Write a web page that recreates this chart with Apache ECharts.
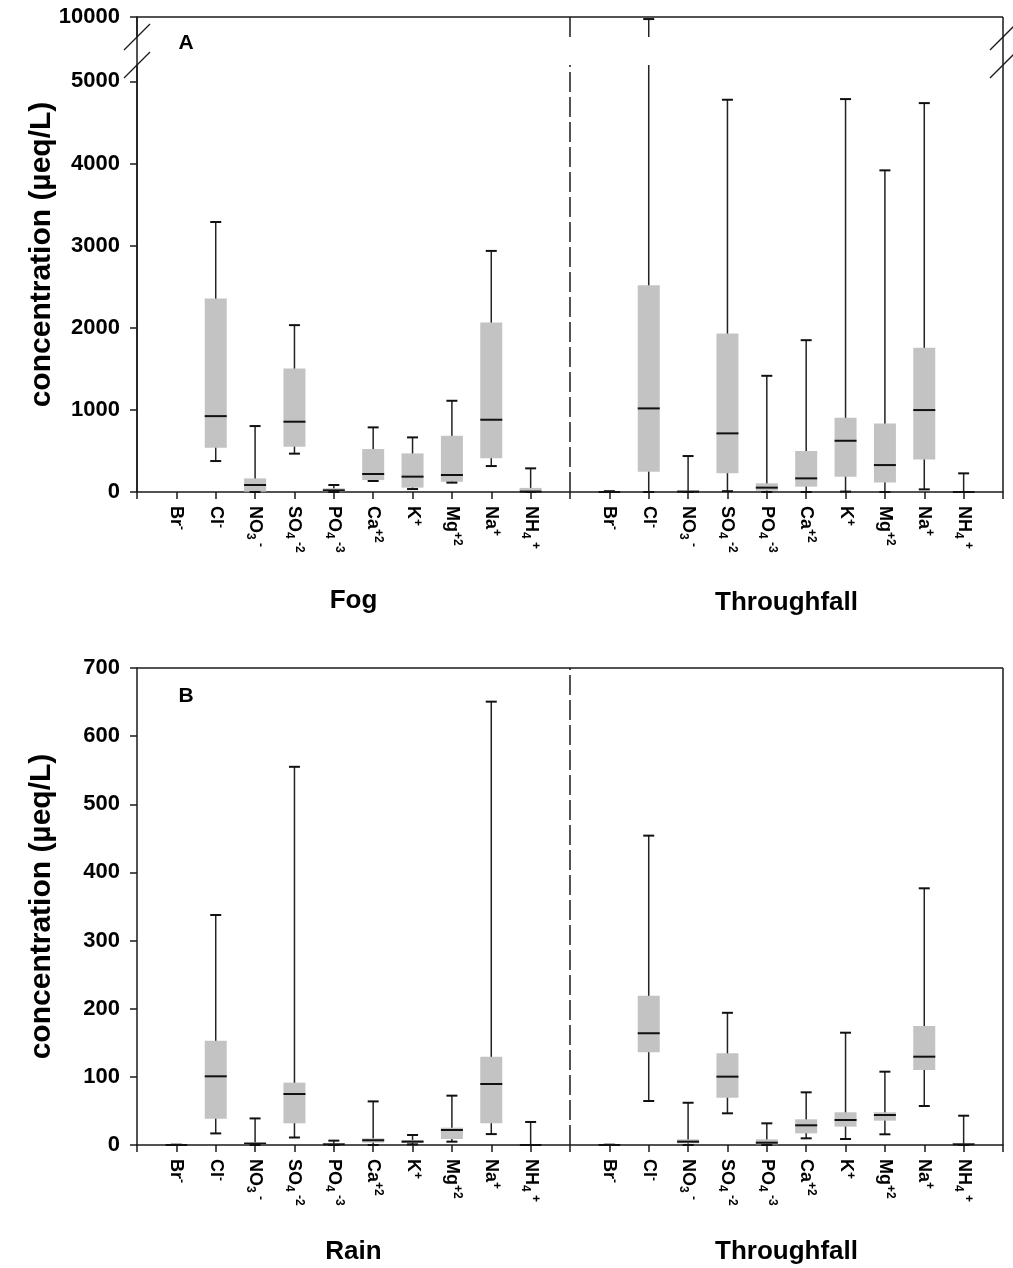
<!DOCTYPE html>
<html><head><meta charset="utf-8">
<script src="https://cdn.jsdelivr.net/npm/echarts@6/dist/echarts.min.js"></script>
<style>html,body{margin:0;padding:0;background:#fff}#c{width:1013px;height:1268px}</style>
</head><body><div id="c"></div>
<script>
// ---------- data ----------
const ionLabels = ['Br{sp|-}', 'Cl{sp|-}', 'NO{sb|3}{sp| -}', 'SO{sb|4}{sp| -2}', 'PO{sb|4}{sp| -3}',
                   'Ca{sp|+2}', 'K{sp|+}', 'Mg{sp|+2}', 'Na{sp|+}', 'NH{sb|4}{sp| +}'];
const groupTitlesA = ['Fog', 'Throughfall'];
const groupTitlesB = ['Rain', 'Throughfall'];
// each row: [min, Q1, median, Q3, max]  (µeq/L)
const fogA = [null, [377,539,924,2356,3288], [0,4,85,166,803], [467,552,856,1504,2032], [0,5,20,45,85],
  [134,146,219,523,787], [36,53,187,470,665], [114,126,207,685,1111], [316,410,880,2064,2936], [0,0,5,50,288]];
const throughfallA = [[0,0,0,2,10], [0,247,1018,2518,9975], [0,0,5,15,438], [10,227,714,1930,4777], [0,16,53,106,1415],
  [0,65,166,499,1849], [5,187,624,904,4785], [0,117,328,835,3917], [32,397,998,1756,4736], [0,0,0,3,227]];
const rainB = [[0,0,0,0,0.5], [17,38.6,100.8,153,337.5], [0,0,2,4,39], [11,31.8,74.8,91.5,555], [0,0,1,2,6.4],
  [0,3.4,7,9.8,64], [1,3.4,4.9,7.3,14.7], [4.9,8.8,22,25.4,72.4], [16,31.8,89.5,129.6,650.6], [0,0,0,1,33.8]];
const throughfallB = [[0,0,0,0,0.5], [64.6,136,164,219,454], [0,2.4,4.9,8.3,62], [46.5,69.5,100.3,134.5,194], [0,1,3.4,8.3,31.8],
  [9.8,17.1,28.9,37.7,77.3], [8.8,26.9,36.7,48,164.8], [15.7,35.7,44,48,107.6], [57.2,110,129.6,174.6,376.7], [0,0,1,2,43]];
const yTicksALower = [0, 1000, 2000, 3000, 4000, 5000];
const yTicksAUpper = [10000];
const yRangeALower = [0, 5200];
const yRangeAUpper = [9756, 10000];
const yRangeB = [0, 700];
const yIntervalB = 100;

// ---------- layout ----------
const FONT = '"Liberation Sans", Arial, sans-serif';
const L = 137, R = 1003;
const A_TOP = 17, A_UP_H = 20, A_LOW_TOP = 65, A_BOT = 492;
const B_TOP = 668, B_BOT = 1145;
const W = 1013, H = 1268;

// category positions: group 1 at 1..10, divider at 11, group 2 at 12..21
function buildData(rows, offset) {
  const out = [];
  rows.forEach((r, i) => { if (r) out.push([offset + i].concat(r)); });
  return out;
}
const labelAt = {};
ionLabels.forEach((t, i) => { labelAt[1 + i] = t; labelAt[12 + i] = t; });

function makeRender(rmin, rmax) {
  return function (params, api) {
    const x = api.value(0);
    const lo = api.value(1), q1 = api.value(2), md = api.value(3), q3 = api.value(4), hi = api.value(5);
    const cl = t => Math.min(Math.max(t, rmin), rmax);
    const P = t => api.coord([x, t]);
    const cx = P(rmin)[0];
    const BW = 22, CW = 11;
    const ch = [];
    if (hi >= rmin && lo <= rmax) {
      const a = P(cl(lo)), b = P(cl(hi));
      ch.push({type: 'line', shape: {x1: cx, y1: a[1], x2: cx, y2: b[1]}, style: {stroke: '#222', lineWidth: 1.5}});
    }
    if (q3 >= rmin && q1 <= rmax) {
      const a = P(cl(q1)), b = P(cl(q3));
      ch.push({type: 'rect', shape: {x: cx - BW / 2, y: b[1], width: BW, height: Math.max(a[1] - b[1], 1)}, style: {fill: '#c3c3c3'}});
    }
    [lo, hi].forEach(t => {
      if (t >= rmin && t <= rmax) {
        const p = P(t);
        ch.push({type: 'line', shape: {x1: cx - CW / 2, y1: p[1], x2: cx + CW / 2, y2: p[1]}, style: {stroke: '#111', lineWidth: 2}});
      }
    });
    if (md >= rmin && md <= rmax) {
      const p = P(md);
      ch.push({type: 'line', shape: {x1: cx - BW / 2, y1: p[1], x2: cx + BW / 2, y2: p[1]}, style: {stroke: '#111', lineWidth: 2}});
    }
    return {type: 'group', children: ch};
  };
}

const axisLineStyle = {color: '#1a1a1a', width: 1.5};
function xAxisCfg(gridIndex, show) {
  return {
    type: 'value', gridIndex, min: 0, max: 22, interval: 1, show,
    splitLine: {show: false},
    axisLine: {show: true, onZero: false, lineStyle: axisLineStyle},
    axisTick: {show: true, inside: false, length: 7, lineStyle: axisLineStyle},
    axisLabel: {
      show: true, rotate: -90, margin: 14, color: '#000', fontFamily: FONT, fontSize: 18, fontWeight: 'bold', lineHeight: 22,
      formatter: v => labelAt[v] || '',
      rich: {
        sb: {fontFamily: FONT, fontSize: 12, fontWeight: 'bold', color: '#000', verticalAlign: 'bottom'},
        sp: {fontFamily: FONT, fontSize: 12, fontWeight: 'bold', color: '#000', verticalAlign: 'top'}
      }
    }
  };
}
const yLabelBase = {color: '#000', fontFamily: FONT, fontSize: 22, fontWeight: 'bold', margin: 17, formatter: v => String(v)};
function yAxisCfg(gridIndex, range, extra) {
  return Object.assign({
    type: 'value', gridIndex, min: range[0], max: range[1],
    splitLine: {show: false},
    axisLine: {show: true, onZero: false, lineStyle: axisLineStyle},
    axisTick: {show: true, inside: false, length: 7, lineStyle: axisLineStyle},
    axisLabel: Object.assign({}, yLabelBase)
  }, extra);
}
const divider = {
  symbol: 'none', silent: true, label: {show: false},
  lineStyle: {color: '#1a1a1a', width: 1.5, type: [20, 5]},
  data: [{xAxis: 11}]
};

const dataA = buildData(fogA, 1).concat(buildData(throughfallA, 12));
const dataB = buildData(rainB, 1).concat(buildData(throughfallB, 12));

const chart = echarts.init(document.getElementById('c'), null, {renderer: 'canvas'});
const option = {
  animation: false,
  backgroundColor: '#fff',
  grid: [
    {left: L, right: W - R, top: A_TOP, height: A_UP_H},
    {left: L, right: W - R, top: A_LOW_TOP, height: A_BOT - A_LOW_TOP},
    {left: L, right: W - R, top: B_TOP, height: B_BOT - B_TOP}
  ],
  xAxis: [xAxisCfg(0, false), xAxisCfg(1, true), xAxisCfg(2, true)],
  yAxis: [
    yAxisCfg(0, yRangeAUpper, {
      axisTick: {show: true, inside: false, length: 7, lineStyle: axisLineStyle, customValues: yTicksAUpper},
      axisLabel: Object.assign({}, yLabelBase, {customValues: yTicksAUpper})
    }),
    yAxisCfg(1, yRangeALower, {
      axisTick: {show: true, inside: false, length: 7, lineStyle: axisLineStyle, customValues: yTicksALower},
      axisLabel: Object.assign({}, yLabelBase, {customValues: yTicksALower})
    }),
    yAxisCfg(2, yRangeB, {interval: yIntervalB})
  ],
  series: [
    {type: 'custom', xAxisIndex: 0, yAxisIndex: 0, renderItem: makeRender(yRangeAUpper[0], yRangeAUpper[1]),
     encode: {x: 0, y: [1, 2, 3, 4, 5]}, data: dataA, markLine: divider, silent: true},
    {type: 'custom', xAxisIndex: 1, yAxisIndex: 1, renderItem: makeRender(yRangeALower[0], yRangeALower[1]),
     encode: {x: 0, y: [1, 2, 3, 4, 5]}, data: dataA, markLine: divider, silent: true},
    {type: 'custom', xAxisIndex: 2, yAxisIndex: 2, renderItem: makeRender(yRangeB[0], yRangeB[1]),
     encode: {x: 0, y: [1, 2, 3, 4, 5]}, data: dataB, markLine: divider, silent: true}
  ]
};
chart.setOption(option);

// ---------- decorations (frame, break marks, titles) ----------
const px = (g, v) => chart.convertToPixel({gridIndex: g}, v);
const stroke = {stroke: '#1a1a1a', lineWidth: 1.5};
const g = [];
function line(x1, y1, x2, y2, st) { g.push({type: 'line', z: 50, shape: {x1, y1, x2, y2}, style: Object.assign({}, stroke, st || {})}); }
function text(t, x, y, size, rot) {
  g.push({type: 'text', z: 50, x, y, rotation: rot || 0,
    style: {text: t, font: 'bold ' + size + 'px ' + FONT, fill: '#000', align: 'center', verticalAlign: 'middle',
            textAlign: 'center', textVerticalAlign: 'middle'}});
}
// panel A frame
const aTL = px(0, [0, yRangeAUpper[1]]), aBR = px(1, [22, 0]);
const aBrkTop = px(0, [0, yRangeAUpper[0]])[1], aBrkBot = px(1, [0, yRangeALower[1]])[1];
line(aTL[0], aTL[1], aBR[0], aTL[1]);
line(aTL[0], aTL[1], aTL[0], aBR[1]);
line(aBR[0], aTL[1], aBR[0], aBR[1]);
[aTL[0], aBR[0]].forEach(x => {
  [aBrkTop, aBrkBot].forEach(y => line(x + 13, y - 13, x - 13, y + 13, {lineWidth: 1.3}));
});
// panel B frame
const bTL = px(2, [0, yRangeB[1]]), bBR = px(2, [22, 0]);
line(bTL[0], bTL[1], bBR[0], bTL[1]);
line(bBR[0], bTL[1], bBR[0], bBR[1]);
// panel letters
text('A', 186, 43, 21);
text('B', 186, 696, 21);
// group titles
text(groupTitlesA[0], px(1, [5.5, 0])[0], 601, 26);
text(groupTitlesA[1], px(1, [16.5, 0])[0], 603, 26);
text(groupTitlesB[0], px(2, [5.5, 0])[0], 1252, 26);
text(groupTitlesB[1], px(2, [16.5, 0])[0], 1252, 26);
// y titles
text('concentration (µeq/L)', 42, (aTL[1] + aBR[1]) / 2, 30, Math.PI / 2);
text('concentration (µeq/L)', 42, (bTL[1] + bBR[1]) / 2, 30, Math.PI / 2);
chart.setOption({graphic: {elements: g}});
</script>
</body></html>
